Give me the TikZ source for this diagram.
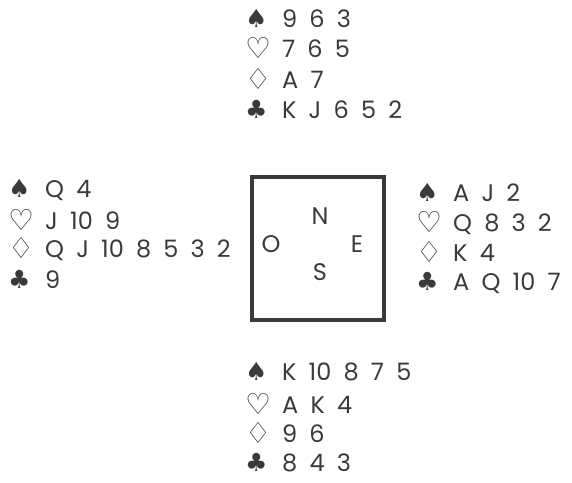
\documentclass[tikz,border=0pt]{standalone}
\usepackage{fontspec}
\setmainfont[WordSpace={1.9}]{Poppins}
\newfontfamily\suitfont{DejaVu Sans}
\definecolor{ink}{HTML}{3A3A3A}
\newcommand{\bsuit}[1]{{\suitfont\fontsize{25pt}{25pt}\selectfont #1}}
\newcommand{\wsuit}[1]{{\suitfont\fontsize{29pt}{29pt}\selectfont\raisebox{-1pt}{#1}}}
\newcommand{\cardline}[2]{\makebox[37pt][l]{#1}#2}
\begin{document}
\begin{tikzpicture}[x=1pt,y=-1pt,
  hand/.style={anchor=west,inner sep=0pt,text=ink,font=\fontsize{24pt}{24pt}\selectfont},
  seat/.style={inner sep=0pt,text=ink,font=\fontsize{24pt}{24pt}\selectfont},
  frame/.style={draw=ink,line width=4pt}]
\useasboundingbox (0,0) rectangle (572,482);
% North
\node[hand] (n1) at (245,18) {\cardline{\bsuit{♠}}{9 6 3}};
\node[hand] (n2) at (245,48) {\cardline{\wsuit{♡}}{7 6 5}};
\node[hand] (n3) at (245,79) {\cardline{\wsuit{♢}}{A 7}};
\node[hand] (n4) at (245,109) {\cardline{\bsuit{♣}}{K J 6 5 2}};
% West
\node[hand] (w1) at (8,190) {\cardline{\bsuit{♠}}{Q 4}};
\node[hand] (w2) at (8,220) {\cardline{\wsuit{♡}}{J 10 9}};
\node[hand] (w3) at (8,249) {\cardline{\wsuit{♢}}{Q J 10 8 5 3 2}};
\node[hand] (w4) at (8,279) {\cardline{\bsuit{♣}}{9}};
% East
\node[hand] (e1) at (416,192) {\cardline{\bsuit{♠}}{A J 2}};
\node[hand] (e2) at (416,223) {\cardline{\wsuit{♡}}{Q 8 3 2}};
\node[hand] (e3) at (416,252) {\cardline{\wsuit{♢}}{K 4}};
\node[hand] (e4) at (416,283) {\cardline{\bsuit{♣}}{A Q 10 7}};
% South
\node[hand] (s1) at (245,372) {\cardline{\bsuit{♠}}{K 10 8 7 5}};
\node[hand] (s2) at (245,404) {\cardline{\wsuit{♡}}{A K 4}};
\node[hand] (s3) at (245,433) {\cardline{\wsuit{♢}}{9 6}};
\node[hand] (s4) at (245,463) {\cardline{\bsuit{♣}}{8 4 3}};
% Table
\coordinate (tl) at (252,177);
\coordinate (tr) at (384,177);
\coordinate (br) at (384,320);
\coordinate (bl) at (252,320);
\draw[frame] (tl) -- (tr) -- (br) -- (bl) -- cycle;
\node[seat] (N) at (320,216) {N};
\node[seat] (O) at (271,244) {O};
\node[seat] (E) at (357,244) {E};
\node[seat] (S) at (320,272) {S};
\end{tikzpicture}
\end{document}
